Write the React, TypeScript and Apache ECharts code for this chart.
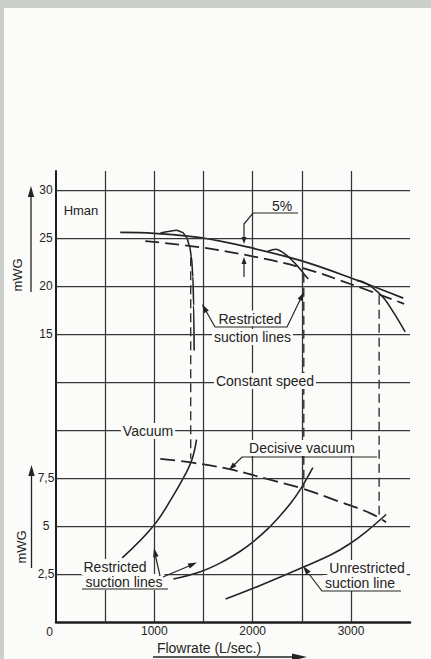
import { useEffect, useRef } from 'react';
import * as echarts from 'echarts';

// ---------- data ----------
// Flow rate axis (L/sec.)
const flowLabels = [1000, 2000, 3000];
const flowGrid = [500, 1000, 1500, 2000, 2500, 3000];
// Head axis (mWG, upper part)
const headGrid = [-10, -5, 0, 5, 10, 15, 20, 25, 30];
const headLabels = [15, 20, 25, 30];
// Vacuum axis (mWG, lower part)
const vacValues = [2.5, 5, 7.5];
const vacLabels = ['2,5', '5', '7,5'];

// Pump head curve at constant speed
const headX = [653, 1000, 1469, 2000, 2490, 3000, 3531];
const headY = [25.6, 25.5, 25.05, 23.95, 22.65, 20.85, 18.75];
// Head curve reduced by 5 %
const reducedX = [908, 1469, 2000, 2490, 3000, 3541];
const reducedY = [24.7, 24.05, 23.1, 21.95, 20.2, 18.15];
// Restricted suction lines (head breakdown)
const r1X = [1061, 1143, 1224, 1286, 1327, 1357, 1378, 1392, 1400, 1405];
const r1Y = [25.5, 25.7, 25.83, 25.62, 25.1, 24.27, 23.0, 21.0, 18.0, 13.3];
const r2X = [2150, 2200, 2240, 2290, 2340, 2400, 2460, 2520, 2565];
const r2Y = [23.6, 23.8, 23.85, 23.62, 23.25, 22.7, 22.05, 21.3, 20.75];
const r3X = [3060, 3120, 3220, 3337, 3439, 3551];
const r3Y = [20.6, 20.45, 19.85, 18.72, 17.16, 15.24];

// Decisive vacuum
const decisiveX = [1061, 1388, 1776, 2184, 2490, 2867, 3204, 3357];
const decisiveY = [8.5, 8.3, 7.95, 7.4, 6.98, 6.3, 5.65, 5.2];
// Vacuum of restricted suction lines
const vac1X = [673, 990, 1194, 1316, 1388, 1429];
const vac1Y = [3.34, 5.0, 6.6, 7.7, 8.55, 9.5];
const vac2X = [1194, 1469, 1673, 1878, 2010, 2153, 2255, 2388, 2490, 2612];
const vac2Y = [2.24, 2.62, 3.08, 3.7, 4.2, 4.85, 5.4, 6.2, 6.95, 8.04];
// Unrestricted suction line
const unrestX = [1724, 2082, 2510, 2796, 2980, 3153, 3357];
const unrestY = [1.2, 1.92, 2.85, 3.5, 4.05, 4.7, 5.6];

// Vertical drop lines (flow, head at top, vacuum at bottom)
const dropX = [1370, 2520, 3286];
const dropHead = [23.0, 21.3, 19.0];
const dropVac = [8.5, 7.0, 5.45];

// axis extents
const FLOW_MAX = 3600;
const HEAD_MIN = -15;
const HEAD_MAX = 32;
const VAC_MAX = 23.5;

const INK = '#242424';
const GRID = '#363636';
const BG = '#fbfbf9';
const FONT = '"Liberation Sans", Arial, Helvetica, sans-serif';

const zip = (xs: number[], ys: number[]) => xs.map((x, i) => [x, ys[i]]);
const toHead = (v: number) => HEAD_MIN + (v * (HEAD_MAX - HEAD_MIN)) / VAC_MAX;

const arrowHead = (tip: number[], from: number[], len = 8, half = 2.6) => {
  const dx = tip[0] - from[0];
  const dy = tip[1] - from[1];
  const d = Math.hypot(dx, dy) || 1;
  const ux = dx / d;
  const uy = dy / d;
  const bx = tip[0] - ux * len;
  const by = tip[1] - uy * len;
  return {
    type: 'polygon',
    z: 102,
    silent: true,
    shape: {
      points: [
        [tip[0], tip[1]],
        [bx - uy * half, by + ux * half],
        [bx + uy * half, by - ux * half],
      ],
    },
    style: { fill: INK },
  };
};

const seg = (x1: number, y1: number, x2: number, y2: number, w = 1.2) => ({
  type: 'line',
  z: 101,
  silent: true,
  shape: { x1, y1, x2, y2 },
  style: { stroke: INK, lineWidth: w },
});

const poly = (points: number[][], w = 1.2) => ({
  type: 'polyline',
  z: 101,
  silent: true,
  shape: { points },
  style: { stroke: INK, lineWidth: w, fill: null },
});

const txt = (
  text: string,
  x: number,
  y: number,
  size = 14,
  bg = true,
  rotation = 0,
) => ({
  type: 'text',
  x,
  y,
  rotation,
  z: 100,
  silent: true,
  style: {
    text,
    fill: INK,
    fontSize: size,
    fontFamily: FONT,
    align: 'center',
    verticalAlign: 'middle',
    ...(bg ? { backgroundColor: BG, padding: [1, 2] } : {}),
  },
});

export default function App() {
  const ref = useRef<HTMLDivElement>(null);

  useEffect(() => {
    if (!ref.current) return;
    const chart = echarts.init(ref.current, null, { renderer: 'svg' });

    const lineBase = {
      type: 'line',
      symbol: 'none',
      silent: true,
      z: 3,
      color: INK,
      smooth: 0.4,
    };

    const series: any[] = [
      {
        ...lineBase,
        name: 'Head',
        yAxisIndex: 0,
        data: zip(headX, headY),
        lineStyle: { color: INK, width: 1.8 },
        markLine: {
          silent: true,
          symbol: ['none', 'none'],
          animation: false,
          label: { show: false },
          emphasis: { disabled: true },
          lineStyle: { color: GRID, width: 1.25, type: 'solid' },
          data: [
            ...flowGrid.map((v) => ({ xAxis: v })),
            ...headGrid.map((v) => ({ yAxis: v })),
          ],
        },
      },
      {
        ...lineBase,
        name: 'Head -5%',
        yAxisIndex: 0,
        data: zip(reducedX, reducedY),
        lineStyle: { color: INK, width: 1.8, type: [14, 6] },
      },
      ...[zip(r1X, r1Y), zip(r2X, r2Y), zip(r3X, r3Y)].map((d, i) => ({
        ...lineBase,
        smooth: 0.3,
        smoothMonotone: i === 0 ? 'x' : undefined,
        name: 'Restricted ' + (i + 1),
        yAxisIndex: 0,
        data: d,
        lineStyle: { color: INK, width: 1.6 },
      })),
      ...dropX.map((x, i) => ({
        ...lineBase,
        smooth: false,
        name: 'Drop ' + (i + 1),
        yAxisIndex: 0,
        data: [
          [x, dropHead[i]],
          [x, toHead(dropVac[i])],
        ],
        lineStyle: { color: INK, width: 1.3, type: [9, 5] },
      })),
      {
        ...lineBase,
        name: 'Decisive vacuum',
        yAxisIndex: 1,
        data: zip(decisiveX, decisiveY),
        lineStyle: { color: INK, width: 1.8, type: [15, 6] },
      },
      ...[zip(vac1X, vac1Y), zip(vac2X, vac2Y), zip(unrestX, unrestY)].map((d, i) => ({
        ...lineBase,
        name: 'Vacuum ' + (i + 1),
        yAxisIndex: 1,
        data: d,
        lineStyle: { color: INK, width: 1.6 },
      })),
    ];

    const graphic: any[] = [
      // scan border strips
      { type: 'rect', z: 200, silent: true, shape: { x: 0, y: 0, width: 431, height: 8 }, style: { fill: '#cbcfca' } },
      { type: 'rect', z: 200, silent: true, shape: { x: 0, y: 0, width: 4, height: 659 }, style: { fill: '#cbcfca' } },

      // axis titles
      txt('mWG', 17, 275, 13, false, Math.PI / 2),
      txt('mWG', 21, 547, 13, false, Math.PI / 2),
      txt('0', 49.5, 631.5, 12, false),
      txt('Flowrate (L/sec.)', 209, 648, 14, false),
      txt('Hman', 81, 210, 13, false),
      txt('5%', 282, 206, 14, false),

      // labels with paper background
      txt('Restricted', 250, 318.5),
      txt('suction lines', 252.5, 337),
      txt('Constant speed', 265, 381),
      txt('Vacuum', 148, 431),
      txt('Decisive vacuum', 302, 448),
      txt('Restricted', 115, 567),
      txt('suction lines', 124, 582),
      txt('Unrestricted', 367, 568),
      txt('suction line', 360, 583),

      // axis arrows
      seg(31, 292, 31, 196, 1.3),
      arrowHead([31, 186], [31, 292], 11, 3.2),
      seg(31.5, 568, 31.5, 476, 1.3),
      arrowHead([31.5, 465], [31.5, 568], 11, 3.2),

      // 5 % marker
      poly([[298, 213], [253, 213], [244, 224], [244, 238]]),
      arrowHead([244, 244], [244, 228], 7, 2.5),
      seg(244, 263, 244, 277),
      arrowHead([244, 257], [244, 272], 7, 2.5),

      // top restricted leader
      poly([[206, 311], [215, 327], [287, 327], [301, 298]]),
      arrowHead([202, 304], [215, 327], 9, 2.8),
      arrowHead([304, 292], [287, 327], 9, 2.8),

      // decisive vacuum leader
      poly([[377, 457], [242, 457], [234, 465]]),
      arrowHead([229, 470], [242, 457], 8, 2.6),

      // bottom restricted leaders
      seg(160, 576, 155.5, 556),
      arrowHead([154, 548], [160, 576], 9, 2.8),
      seg(163, 577, 189, 566),
      arrowHead([197, 562.5], [163, 577], 9, 2.8),
      seg(82, 589, 168, 589),

      // unrestricted leader
      poly([[401, 591], [322, 591], [309, 574]]),
      arrowHead([303, 566], [322, 591], 9, 2.8),

      // flowrate arrow
      seg(153, 657, 292, 657, 1.4),
      arrowHead([307, 657], [153, 657], 15, 3.6),
    ];

    chart.setOption({
      animation: false,
      backgroundColor: BG,
      textStyle: { fontFamily: FONT },
      grid: { left: 56, right: 21, top: 171, bottom: 37, containLabel: false, outerBoundsMode: 'none' },
      xAxis: {
        type: 'value',
        min: 0,
        max: FLOW_MAX,
        interval: 1000,
        axisLine: { show: true, onZero: false, lineStyle: { color: '#1e1e1e', width: 2.6 } },
        axisTick: { show: false },
        splitLine: { show: false },
        axisLabel: {
          margin: 3,
          color: INK,
          fontSize: 12,
          fontFamily: FONT,
          showMaxLabel: false,
          formatter: (v: number) => (flowLabels.includes(v) ? String(v) : ''),
        },
      },
      yAxis: [
        {
          type: 'value',
          position: 'left',
          min: HEAD_MIN,
          max: HEAD_MAX,
          interval: 5,
          axisLine: { show: true, onZero: false, lineStyle: { color: '#1e1e1e', width: 2 } },
          axisTick: { show: false },
          splitLine: { show: false },
          axisLabel: {
            align: 'center',
            margin: 10,
            color: INK,
            fontSize: 12,
            fontFamily: FONT,
            formatter: (v: number) => (headLabels.includes(v) ? String(v) : ''),
          },
        },
        {
          type: 'value',
          position: 'left',
          min: 0,
          max: VAC_MAX,
          interval: 2.5,
          axisLine: { show: false, onZero: false },
          axisTick: { show: false },
          splitLine: { show: false },
          axisLabel: {
            align: 'center',
            margin: 10,
            color: INK,
            fontSize: 12,
            fontFamily: FONT,
            formatter: (v: number) => {
              const i = vacValues.indexOf(v);
              return i >= 0 ? vacLabels[i] : '';
            },
          },
        },
      ],
      series,
      graphic,
    });

    return () => chart.dispose();
  }, []);

  return (
    <div
      ref={ref}
      style={{ position: 'absolute', left: 0, top: 0, width: 431, height: 659 }}
    />
  );
}
